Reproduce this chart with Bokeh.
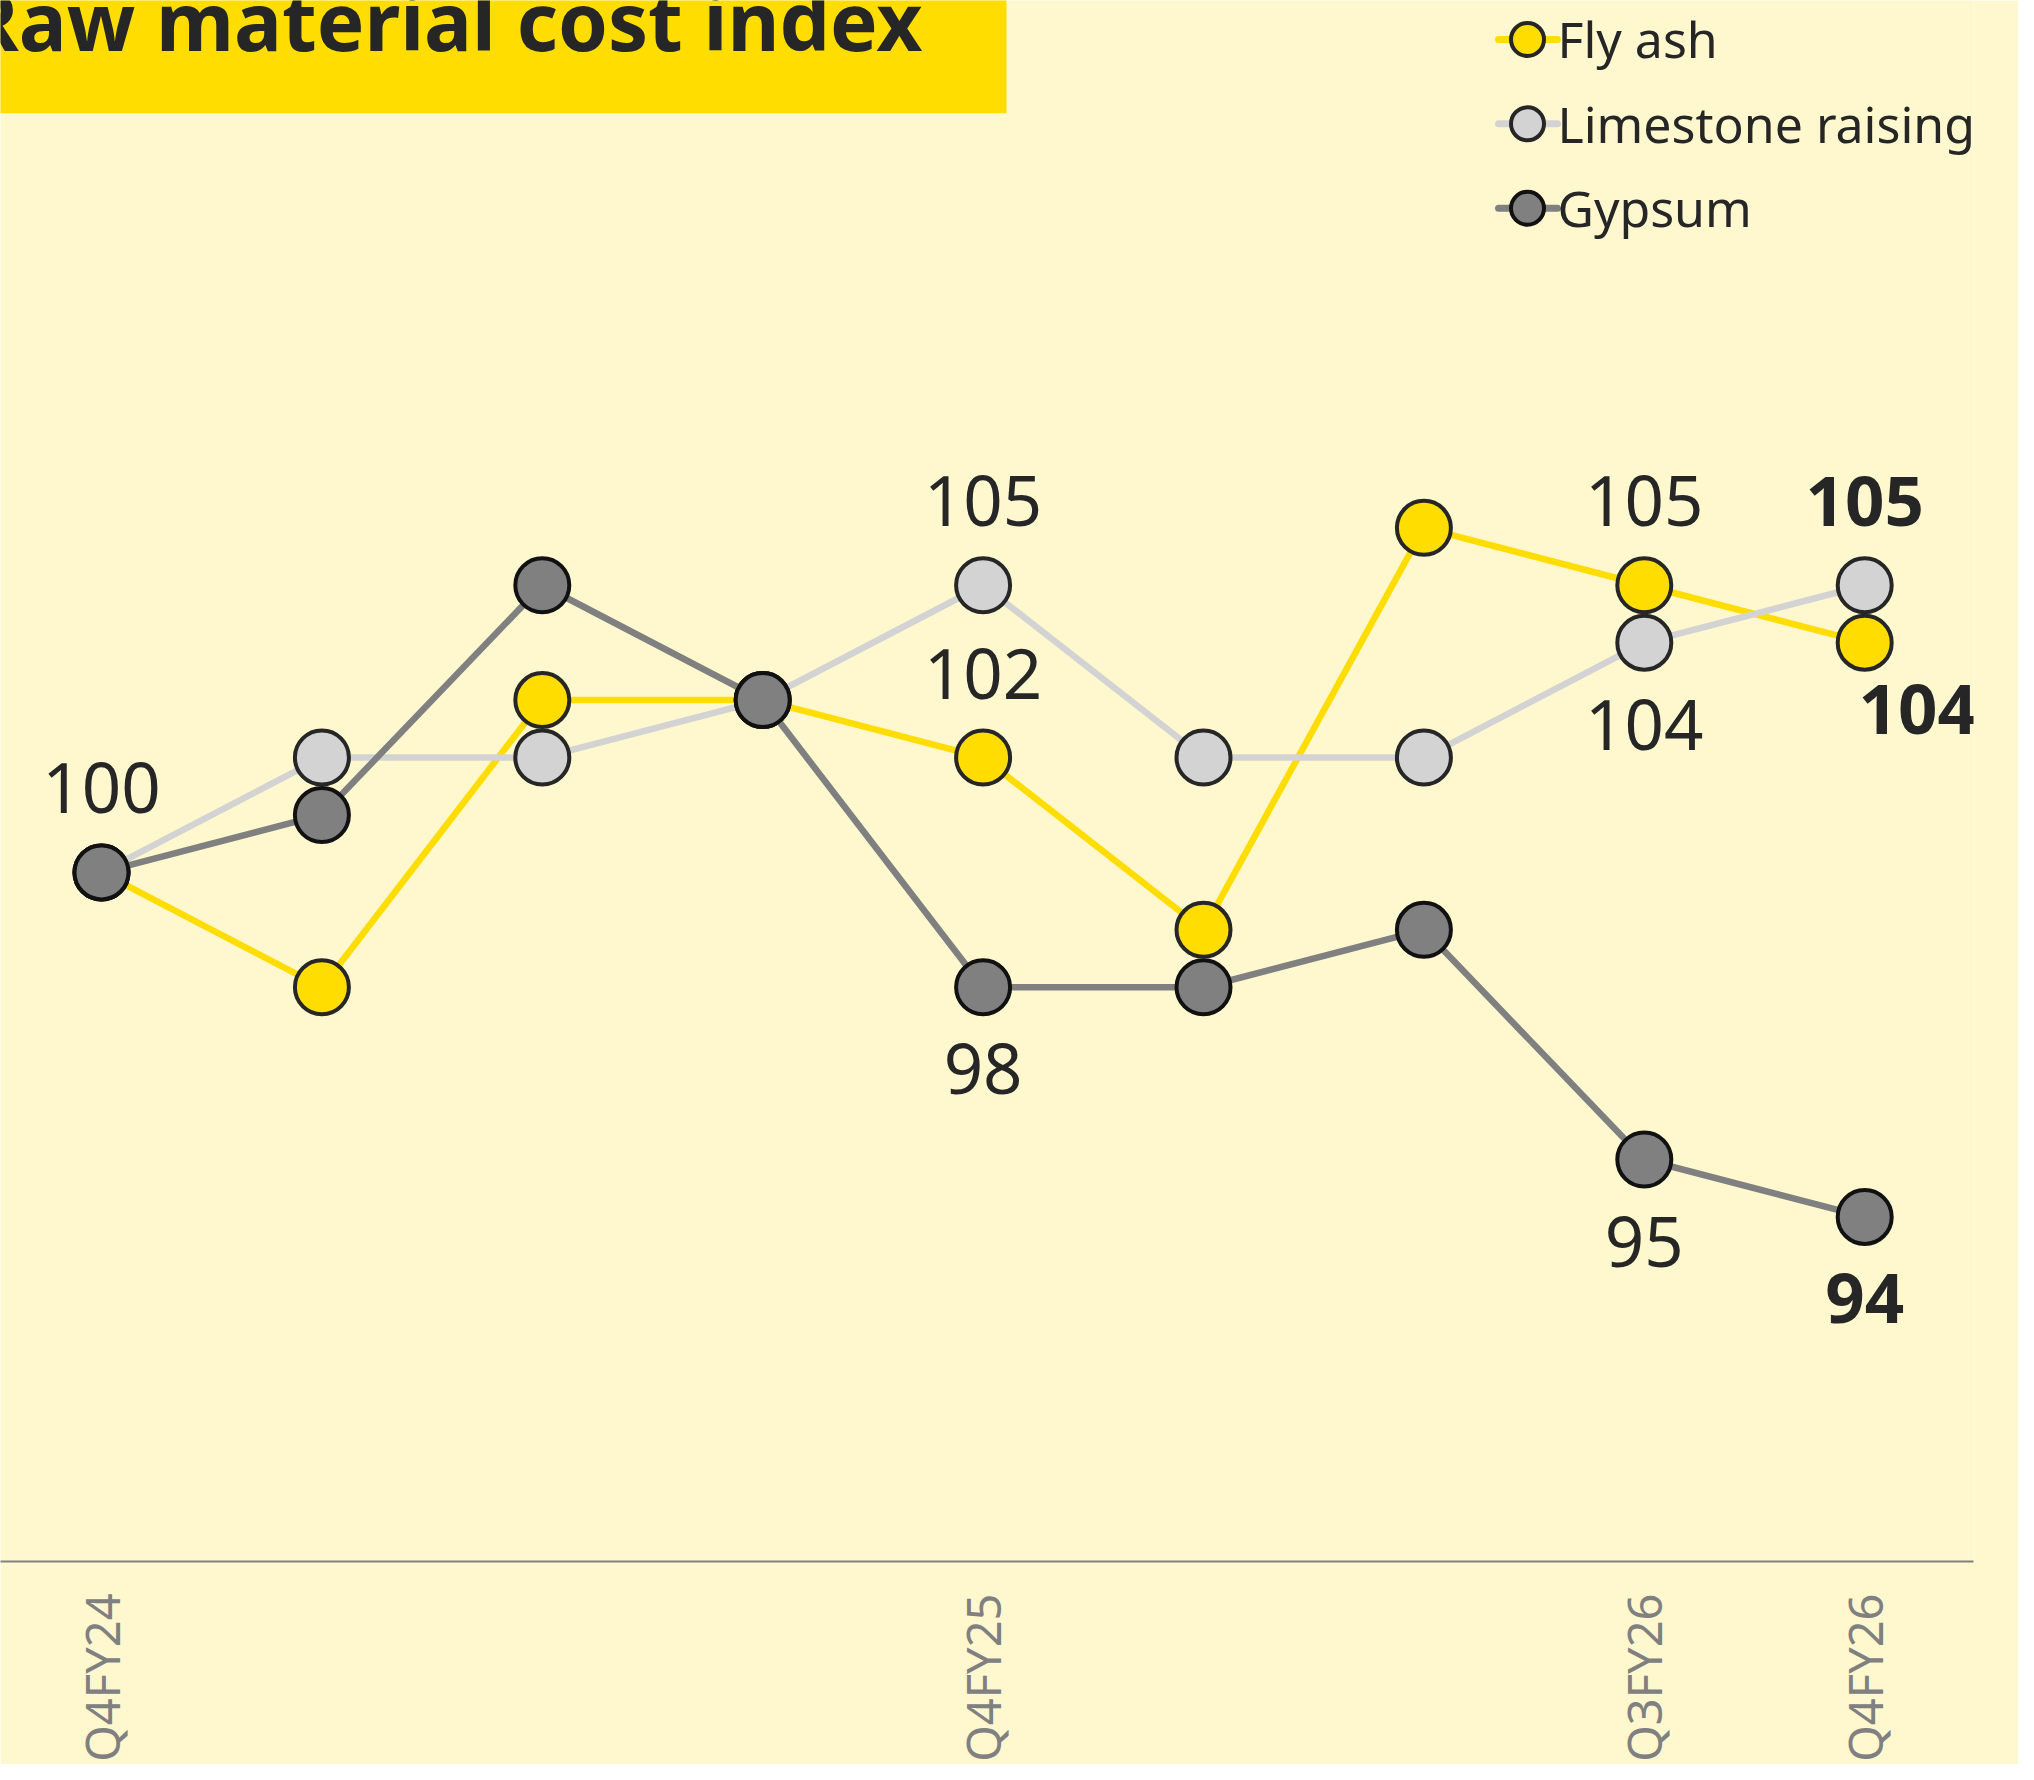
import math
from bokeh.plotting import figure
from bokeh.models import Range1d, FixedTicker, BoxAnnotation, ColumnDataSource
from bokeh.core.properties import value
from bokeh.embed import file_html
from bokeh.resources import INLINE

# ---------------- data ----------------
quarters = ["Q4FY24", "Q1FY25", "Q2FY25", "Q3FY25", "Q4FY25",
            "Q1FY26", "Q2FY26", "Q3FY26", "Q4FY26"]
labelled_quarters = ["Q4FY24", "Q4FY25", "Q3FY26", "Q4FY26"]

series_names = ["Fly ash", "Limestone raising", "Gypsum"]
fly_ash = [100, 98, 103, 103, 102, 99, 106, 105, 104]
limestone_raising = [100, 102, 102, 103, 105, 102, 102, 104, 105]
gypsum = [100, 101, 105, 103, 98, 98, 99, 95, 94]

# data labels: which series, which quarter, above/below the point
label_series = ["Gypsum", "Limestone raising", "Fly ash", "Gypsum",
                "Fly ash", "Limestone raising", "Gypsum",
                "Limestone raising", "Fly ash", "Gypsum"]
label_quarter = ["Q4FY24", "Q4FY25", "Q4FY25", "Q4FY25",
                 "Q3FY26", "Q3FY26", "Q3FY26",
                 "Q4FY26", "Q4FY26", "Q4FY26"]
label_side = ["above", "above", "above", "below",
              "above", "below", "below",
              "above", "below", "below"]

title_text = "Raw material cost index"

# ---------------- styles ----------------
BG = "#FFF8CF"
TEXT = "#262626"
colors = {"Fly ash": "#FFDD00", "Limestone raising": "#D3D3D3", "Gypsum": "#808080"}
outline = {"Fly ash": "#262626", "Limestone raising": "#262626", "Gypsum": "#111111"}
values = {"Fly ash": fly_ash, "Limestone raising": limestone_raising, "Gypsum": gypsum}

W, H = 2018, 1764
BORDER_R, BORDER_B = 45, 201
FRAME_W, FRAME_H = W - BORDER_R, H - BORDER_B

# pixel layout of the frame (figure pixels)
PX0, PXSTEP = 101.0, 220.4    # x pixel of first quarter, pixels per quarter
PY100, PYSTEP = 873.0, 57.5   # y pixel of index 100, pixels per index point
x_start = -PX0 / PXSTEP
x_end = x_start + FRAME_W / PXSTEP
y_end = 100 + PY100 / PYSTEP
y_start = y_end - FRAME_H / PYSTEP


def dx(px):
    return x_start + px / PXSTEP


def dy(py):
    return y_end - py / PYSTEP


p = figure(width=W, height=H, output_backend="svg", toolbar_location=None,
           x_range=Range1d(x_start, x_end), y_range=Range1d(y_start, y_end),
           x_axis_location="below", y_axis_location=None,
           background_fill_color=BG, border_fill_color=BG,
           min_border_left=0, min_border_top=0,
           min_border_right=BORDER_R, min_border_bottom=BORDER_B)
p.outline_line_color = None
p.grid.visible = False

# x axis
xi = list(range(len(quarters)))
tick_pos = [quarters.index(q) for q in labelled_quarters]
ax = p.xaxis[0]
ax.ticker = FixedTicker(ticks=tick_pos)
ax.major_label_overrides = {i: quarters[i] for i in tick_pos}
ax.major_label_orientation = math.pi / 2
ax.major_label_text_font = "Noto Sans"
ax.major_label_text_font_size = "47px"
ax.major_label_text_color = "#808080"
ax.major_label_standoff = 32
ax.major_tick_line_color = None
ax.minor_tick_line_color = None
ax.major_tick_out = 0
ax.major_tick_in = 0
ax.axis_line_color = "#808080"
ax.axis_line_width = 2

# title box + title
p.add_layout(BoxAnnotation(left=dx(-20), right=dx(1006), top=dy(-20), bottom=dy(113),
                           fill_color="#FFDD00", fill_alpha=1.0, line_alpha=0,
                           level="underlay"))
p.text(x=[dx(922)], y=[dy(19)], text=[title_text], text_align="right",
       text_baseline="alphabetic", text_font=value("Noto Sans"),
       text_font_style="bold", text_font_size="80px", text_color=TEXT)

# series
for name in series_names:
    src = ColumnDataSource(dict(x=xi, y=values[name]))
    p.line("x", "y", source=src, line_color=colors[name], line_width=6.5,
           line_join="round")
    p.scatter("x", "y", source=src, marker="circle", size=54,
              fill_color=colors[name], line_color=outline[name], line_width=4)

# data labels
lx, ly, lt, lxo, lyo, lw = [], [], [], [], [], []
last_q = quarters[-1]
for s, q, side in zip(label_series, label_quarter, label_side):
    i = quarters.index(q)
    v = values[s][i]
    lx.append(i)
    ly.append(v)
    lt.append(str(v))
    if side == "above":
        xo, yo = 0, -84
    else:
        xo, yo = 0, 82
        if q == last_q and s == "Fly ash":
            xo, yo = 53, 67
    lxo.append(xo)
    lyo.append(yo)
    lw.append("bold" if q == last_q else "normal")
lsrc = ColumnDataSource(dict(x=lx, y=ly, text=lt, xo=lxo, yo=lyo, w=lw))
p.text("x", "y", text="text", source=lsrc, x_offset="xo", y_offset="yo",
       text_align="center", text_baseline="alphabetic",
       text_font=value("Noto Sans"), text_font_size="69px",
       text_font_style="w", text_color=TEXT)

# legend (drawn manually at the top right)
for k, name in enumerate(series_names):
    ypx = 39 + 84.5 * k
    p.segment(x0=[dx(1498)], y0=[dy(ypx)], x1=[dx(1557)], y1=[dy(ypx)],
              line_color=colors[name], line_width=7, line_cap="round")
    p.scatter(x=[dx(1527)], y=[dy(ypx)], marker="circle", size=33,
              fill_color=colors[name], line_color=outline[name], line_width=4)
    p.text(x=[dx(1557)], y=[dy(ypx)], text=[name], text_align="left",
           text_baseline="alphabetic", text_font=value("Noto Sans"),
           text_font_size="50px", text_color=TEXT)

open("out.html", "w").write(file_html(p, INLINE))
